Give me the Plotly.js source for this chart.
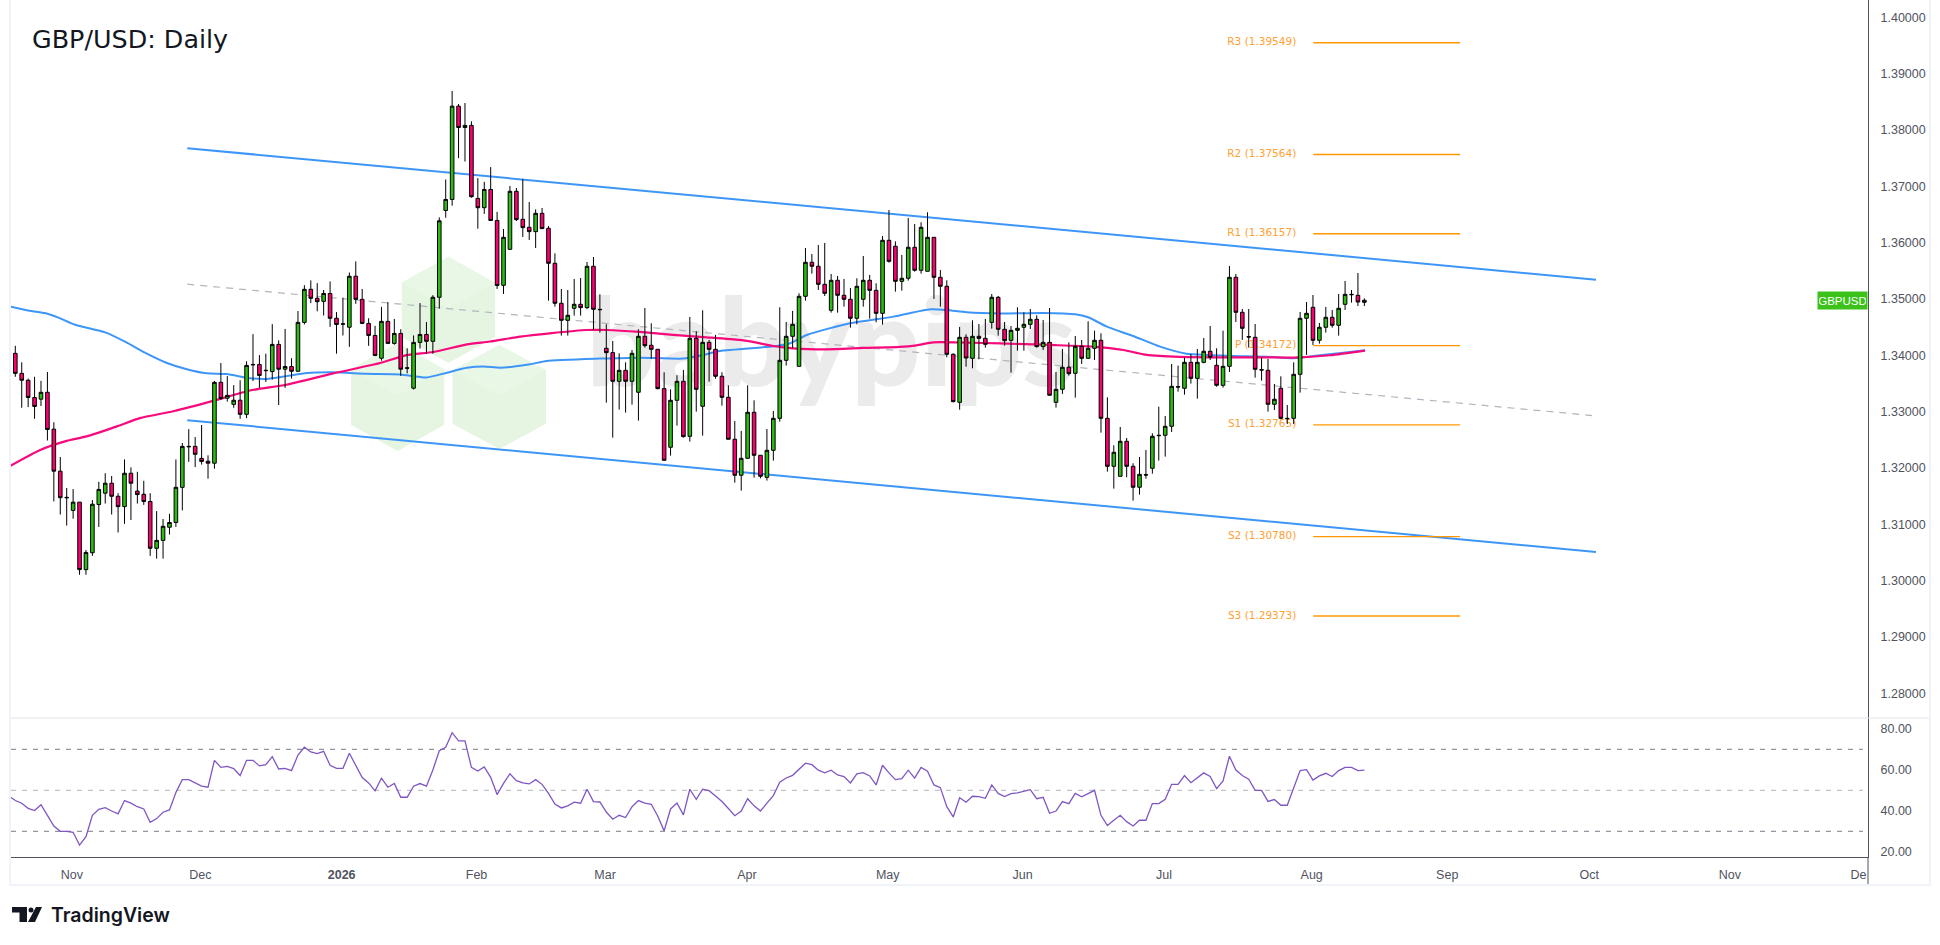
<!DOCTYPE html>
<html>
<head>
<meta charset="utf-8">
<script src="https://cdn.plot.ly/plotly-3.0.1.min.js"></script>
<style>html,body{margin:0;padding:0;background:#fff}#chart{width:1940px;height:945px}</style>
</head>
<body>
<div id="chart"></div>
<script>
const open = [
1.34034,1.33679,1.33557,1.33251,1.33221,1.33343,1.32689,1.31943,1.31478,1.31246,
1.31393,1.30195,1.30494,1.31350,1.31552,1.31729,1.31497,1.31313,1.31906,1.31589,
1.31533,1.31405,1.30574,1.30714,1.30947,1.31032,1.31656,1.32383,1.32383,1.32169,
1.32120,1.32084,1.33520,1.33239,1.33129,1.33202,1.32952,1.33838,1.33838,1.33734,
1.33710,1.34193,1.33753,1.33801,1.33716,1.34584,1.35171,1.35012,1.34957,1.35097,
1.34657,1.34559,1.34498,1.35403,1.34993,1.34566,1.34352,1.33948,1.34602,1.34211,
1.34388,1.33777,1.33416,1.34229,1.34370,1.34248,1.35030,1.36571,1.36766,1.38423,
1.38044,1.38081,1.36785,1.36620,1.36944,1.36393,1.35242,1.35881,1.36911,1.36414,
1.36272,1.36195,1.36520,1.36254,1.35633,1.34923,1.34621,1.34834,1.34905,1.34846,
1.35580,1.34816,1.34124,1.34047,1.33538,1.33733,1.33538,1.33343,1.34337,1.34177,
1.34106,1.33408,1.32367,1.33201,1.33538,1.32562,1.34301,1.33094,1.34230,1.34106,
1.33627,1.33254,1.32509,1.31870,1.32171,1.32988,1.32225,1.31834,1.32313,1.32881,
1.33911,1.34337,1.33804,1.35047,1.35651,1.35580,1.35260,1.34798,1.35331,1.35065,
1.34994,1.34657,1.34994,1.35331,1.35153,1.34745,1.36041,1.35935,1.35313,1.35367,
1.35917,1.35509,1.35491,1.36094,1.35384,1.35225,1.34017,1.33165,1.34319,1.33946,
1.34337,1.34301,1.34585,1.35029,1.34461,1.34266,1.34443,1.34497,1.34550,1.34639,
1.34154,1.34230,1.33165,1.33396,1.33787,1.33680,1.34159,1.33946,1.34124,1.34266,
1.32881,1.32029,1.31852,1.32473,1.32029,1.31657,1.31881,1.31994,1.32580,1.32580,
1.32739,1.33443,1.33414,1.33875,1.33591,1.33875,1.34071,1.33822,1.33467,1.33804,
1.35384,1.34763,1.34331,1.34319,1.33745,1.33733,1.33130,1.33414,1.32881,1.32881,
1.33662,1.34657,1.34852,1.34266,1.34497,1.34674,1.34532,1.34905,1.35082,1.35065,1.34940];
const high = [
1.34168,1.33875,1.33587,1.33618,1.33545,1.33704,1.32811,1.32194,1.31644,1.31625,
1.31393,1.30543,1.31430,1.31754,1.31906,1.31857,1.31552,1.32151,1.32010,1.31931,
1.31772,1.31552,1.31234,1.31093,1.31185,1.32151,1.32444,1.32689,1.32548,1.32762,
1.32224,1.33545,1.33862,1.33630,1.33471,1.33557,1.33893,1.34376,1.34003,1.34028,
1.34553,1.34266,1.34468,1.33948,1.34786,1.35244,1.35330,1.35281,1.35159,1.35311,
1.34767,1.35024,1.35470,1.35666,1.35177,1.34657,1.34523,1.34859,1.34945,1.34645,
1.34462,1.34125,1.34352,1.34926,1.34590,1.35067,1.36448,1.37121,1.38692,1.38460,
1.38478,1.38154,1.37145,1.37078,1.37341,1.36546,1.36242,1.37006,1.36970,1.37130,
1.36721,1.36591,1.36615,1.36295,1.35810,1.35177,1.35159,1.35355,1.35372,1.35656,
1.35745,1.35082,1.34550,1.34254,1.34035,1.33875,1.34094,1.34461,1.34840,1.34568,
1.34106,1.33698,1.33396,1.33645,1.33739,1.34680,1.34426,1.34798,1.34272,1.34361,
1.33698,1.33467,1.32834,1.32657,1.33467,1.33201,1.32225,1.32692,1.33012,1.34852,
1.34591,1.34787,1.35100,1.35905,1.35798,1.35958,1.35994,1.35443,1.35408,1.35355,
1.35195,1.35367,1.35763,1.35426,1.35278,1.36118,1.36579,1.36023,1.35781,1.36437,
1.36331,1.36361,1.36538,1.36094,1.35514,1.35331,1.34035,1.34503,1.34372,1.34621,
1.34556,1.34645,1.35088,1.35053,1.34591,1.34520,1.34852,1.34763,1.34822,1.34710,
1.34627,1.34840,1.33704,1.34112,1.34230,1.34343,1.34272,1.34603,1.34437,1.34390,
1.33254,1.32402,1.32727,1.32532,1.32083,1.32195,1.32319,1.32615,1.33088,1.32923,
1.33846,1.33816,1.33958,1.34023,1.34112,1.34307,1.34520,1.34124,1.34437,1.35585,
1.35443,1.34822,1.34822,1.34556,1.33958,1.33935,1.33491,1.33627,1.33118,1.33875,
1.34769,1.34946,1.35071,1.34574,1.34858,1.34804,1.35088,1.35319,1.35159,1.35461,1.35011];
const low = [
1.33618,1.33068,1.33080,1.32872,1.33098,1.32487,1.31405,1.31173,1.30977,1.31099,
1.30103,1.30103,1.30439,1.30953,1.31368,1.31173,1.30855,1.31008,1.31075,1.31368,
1.31344,1.30439,1.30390,1.30390,1.30818,1.30953,1.31246,1.32108,1.32016,1.32059,
1.31809,1.31986,1.33208,1.33178,1.33068,1.32872,1.32884,1.33545,1.33422,1.33526,
1.33569,1.33117,1.33422,1.33587,1.33710,1.34547,1.34926,1.34780,1.34706,1.34504,
1.34028,1.34352,1.34150,1.34914,1.34553,1.34168,1.33985,1.33905,1.34199,1.34187,
1.33636,1.33679,1.33392,1.34119,1.34028,1.34028,1.34828,1.36442,1.36656,1.37500,
1.37439,1.36797,1.36247,1.36509,1.36393,1.35177,1.35088,1.35870,1.36384,1.36100,
1.36047,1.35905,1.36242,1.34970,1.34864,1.34349,1.34349,1.34704,1.34704,1.34822,
1.34449,1.34402,1.33159,1.32538,1.33035,1.32982,1.33124,1.32840,1.34136,1.33940,
1.33396,1.32130,1.32219,1.32751,1.32538,1.32467,1.33000,1.32574,1.33532,1.33585,
1.33106,1.32509,1.31739,1.31597,1.32165,1.31828,1.31816,1.31775,1.32130,1.32822,
1.33816,1.34124,1.33804,1.34970,1.35449,1.35159,1.35053,1.34757,1.34757,1.34864,
1.34491,1.34550,1.34864,1.34651,1.34585,1.34544,1.35645,1.35130,1.35148,1.35325,
1.35485,1.35449,1.35491,1.35000,1.34864,1.33964,1.33165,1.33035,1.33798,1.33769,
1.33929,1.34136,1.34473,1.34349,1.34171,1.33692,1.34082,1.34082,1.34467,1.34136,
1.34094,1.33284,1.33071,1.33313,1.33639,1.33248,1.33846,1.33940,1.33917,1.32627,
1.31935,1.31633,1.31852,1.31834,1.31420,1.31526,1.31810,1.31899,1.32130,1.32201,
1.32639,1.33355,1.33301,1.33497,1.33230,1.33858,1.33917,1.33443,1.33426,1.33704,
1.34591,1.34272,1.34136,1.33603,1.33550,1.33000,1.33029,1.32864,1.32781,1.32781,
1.33337,1.34006,1.34183,1.34207,1.34402,1.34491,1.34349,1.34804,1.34935,1.34875,1.34875];
const close = [
1.33679,1.33557,1.33251,1.33092,1.33343,1.32683,1.31943,1.31472,1.31472,1.31393,
1.30195,1.30500,1.31356,1.31619,1.31729,1.31497,1.31313,1.31906,1.31729,1.31527,
1.31405,1.30574,1.30714,1.30965,1.31032,1.31656,1.32383,1.32377,1.32242,1.32114,
1.32084,1.33520,1.33233,1.33288,1.33202,1.32952,1.33820,1.33832,1.33642,1.33728,
1.34193,1.33753,1.33801,1.33716,1.34584,1.35171,1.35012,1.34951,1.35097,1.34657,
1.34547,1.34553,1.35403,1.34993,1.34566,1.34352,1.33997,1.34602,1.34211,1.34388,
1.33753,1.33771,1.34229,1.34370,1.34248,1.35030,1.36387,1.36766,1.38423,1.38044,
1.38081,1.36815,1.36620,1.36944,1.36393,1.35238,1.36094,1.36911,1.36408,1.36266,
1.36195,1.36520,1.36248,1.35633,1.34923,1.34621,1.34710,1.34905,1.34846,1.35580,
1.34816,1.34810,1.34047,1.33538,1.33733,1.33538,1.34035,1.34337,1.34171,1.34106,
1.33408,1.32136,1.33201,1.33538,1.32556,1.34301,1.33396,1.34230,1.34106,1.33627,
1.33254,1.32509,1.31870,1.32171,1.32988,1.32225,1.31852,1.32313,1.32881,1.33911,
1.34337,1.34550,1.35047,1.35651,1.35580,1.35260,1.35100,1.35331,1.35065,1.34994,
1.34657,1.35225,1.35331,1.35153,1.34745,1.36041,1.35668,1.35313,1.35367,1.35917,
1.35509,1.36272,1.36094,1.35384,1.35225,1.34017,1.33177,1.34319,1.33952,1.34337,
1.34301,1.34195,1.35029,1.34461,1.34260,1.34443,1.34479,1.34550,1.34639,1.34154,
1.34230,1.33290,1.33396,1.33787,1.33674,1.34159,1.33946,1.34124,1.34266,1.32881,
1.32029,1.32278,1.32473,1.32029,1.31657,1.31887,1.31875,1.32562,1.32574,1.32739,
1.33449,1.33437,1.33875,1.33591,1.33875,1.34071,1.33964,1.33467,1.33804,1.35384,
1.34763,1.34479,1.34325,1.33751,1.33739,1.33130,1.33219,1.32881,1.32875,1.33662,
1.34657,1.34745,1.34266,1.34497,1.34674,1.34532,1.34834,1.35082,1.35076,1.34946,1.34976];
const barIndex = close.map((_, i) => i);

const rsi = [47.2,
45.0,43.7,41.2,40.1,43.0,37.8,32.6,30.0,30.0,29.5,
23.3,27.4,37.8,40.7,41.5,39.9,38.5,45.0,43.7,42.0,
40.9,34.4,36.2,39.3,40.4,48.9,55.2,55.2,53.4,52.0,
51.5,64.6,61.2,61.7,60.6,57.2,64.6,64.6,61.9,62.5,
66.4,60.4,60.7,59.6,67.2,71.0,68.7,67.9,69.0,62.2,
60.7,60.7,68.1,61.9,56.2,53.6,49.7,55.9,51.5,53.3,
46.6,46.6,52.0,53.3,52.0,59.9,69.3,71.0,78.1,74.1,
74.1,61.2,59.4,61.4,56.3,47.9,53.4,58.1,54.7,53.6,
53.1,55.2,52.9,48.5,43.3,41.4,42.4,44.2,43.7,50.5,
44.5,44.3,39.4,35.9,37.8,36.7,42.0,45.0,43.7,43.2,
37.5,30.2,40.9,43.8,38.0,50.5,45.6,50.5,49.8,47.2,
44.5,41.1,37.6,39.9,45.9,42.4,39.9,43.7,47.4,53.9,
56.0,57.3,60.2,63.2,62.5,59.8,58.5,59.8,57.5,56.7,
53.6,58.0,58.6,57.0,52.6,62.2,58.5,55.2,55.7,59.8,
55.9,61.2,59.3,52.6,51.3,42.0,37.0,46.4,44.2,47.1,
46.9,46.1,52.6,48.5,46.9,48.4,48.7,49.4,50.3,45.9,
46.6,38.8,39.9,44.5,43.5,48.5,46.8,48.4,50.0,37.8,
32.8,35.4,37.8,34.7,32.6,35.4,35.4,43.5,43.5,45.6,
52.9,52.9,57.2,53.7,56.0,58.5,56.8,50.8,54.6,66.6,
59.9,57.2,55.4,50.0,50.0,44.6,45.5,42.7,42.7,51.5,
59.6,60.1,55.0,57.0,58.3,56.7,59.6,61.2,61.2,59.6,59.8];
const rsiIndex = rsi.map((_, i) => i - 1);

const ma100Index = [-0.83,1.8,4.6,6.7,9.3,14,17.3,20.4,23.6,26.7,29.8,32.9,36.5,39.1,42.2,45.4,49.5,54.7,59.9,64,67.2,70.3,72.9,75.5,80.1,82.7,91,97.2,104,107.1,109.7,118.5,120.6,123.2,129.9,136.7,142.4,145,148.1,153.3,160,165,167,169.9,174,178.2,182.3,185.5,189.6,194.8,199,203.1,206.7,210.1];
const ma100 = [1.34865,1.34798,1.34749,1.34669,1.34541,1.34407,1.34229,1.34034,1.33863,1.33752,1.33679,1.33667,1.33593,1.33581,1.33630,1.33685,1.33697,1.33673,1.33661,1.33606,1.33691,1.33777,1.33801,1.33780,1.33840,1.33899,1.33941,1.33958,1.33941,1.34006,1.34077,1.34165,1.34213,1.34361,1.34568,1.34686,1.34816,1.34804,1.34763,1.34742,1.34751,1.34727,1.34674,1.34509,1.34343,1.34154,1.34029,1.34006,1.33988,1.33976,1.33946,1.34000,1.34047,1.34088];
const ma200Index = [-0.83,3.8,8,11.1,15.8,19.4,24.6,30.8,36.5,42.2,49.5,56.8,60.9,65.1,70.3,73.9,78.6,83.2,88.9,92.1,97.2,102.4,107.6,112.8,115.4,118,121.1,126.3,132,137.7,140.3,142.9,148.1,153.3,161,167.8,172.5,175.6,180.3,186.5,194.8,199,204.7,210.1];
const ma200 = [1.32035,1.32316,1.32481,1.32560,1.32738,1.32884,1.33007,1.33190,1.33374,1.33477,1.33679,1.33862,1.34003,1.34058,1.34193,1.34245,1.34331,1.34390,1.34449,1.34449,1.34414,1.34361,1.34319,1.34272,1.34225,1.34165,1.34124,1.34106,1.34130,1.34148,1.34177,1.34230,1.34225,1.34210,1.34183,1.34154,1.34094,1.34017,1.33976,1.33964,1.33964,1.33958,1.34000,1.34082];

const channelIndex = [26.77, 246.06];
const channelUpper = [1.37676, 1.35342];
const channelLower = [1.32848, 1.30507];
const channelMiddle = [1.35262, 1.32924];

const pivotNames = ['R3','R2','R1','P','S1','S2','S3'];
const pivotValues = [1.39549,1.37564,1.36157,1.34172,1.32765,1.30780,1.29373];
const pivotLabels = pivotValues.map((v,i) => pivotNames[i] + ' (' + v.toFixed(5) + ')');
const pivotIndex = [202.05, 224.9];
const pivotLabelIndex = 199.4;

const priceTicks = [1.28,1.29,1.30,1.31,1.32,1.33,1.34,1.35,1.36,1.37,1.38,1.39,1.40];
const rsiTicks = [20,40,60,80];
const rsiLevels = [70,50,30];
const rsiLevelColors = ['#787b86','#b2b5be','#787b86'];
const timeTickIndex = [8.8,28.8,50.8,71.8,91.8,113.9,135.8,156.8,178.8,201.8,222.9,245,266.9,286.9];
const timeTickText = ['Nov','Dec','<b>2026</b>','Feb','Mar','Apr','May','Jun','Jul','Aug','Sep','Oct','Nov','De'];

const W = 1940, H = 945;
const xRange = [-0.669, 288.4];
const yRange = [1.27561, 1.40307];
const px = x => x / W, py = y => 1 - y / H;
const poly = pts => 'M' + pts.map(p => px(p[0]) + ',' + py(p[1])).join('L') + 'Z';
const hexPts = (l, r, t, b) => {
  const c = (l + r) / 2, q = (b - t) / 4.1;
  return [[c, t], [r, t + q], [r, b - q], [c, b], [l, b - q], [l, t + q]];
};
const hexTop = (l, r, t, b) => {
  const c = (l + r) / 2, q = (b - t) / 4.1;
  return [[c, t], [r, t + q], [c, t + 2 * q], [l, t + q]];
};
const hexes = [[401.7,495,256.7,363],[351,444.3,343,451],[452.5,546,345,449]];
const paperShape = (path, fill) => ({type:'path', xref:'paper', yref:'paper', path, fillcolor:fill, line:{width:0}, layer:'below'});
const frameLine = (x0,y0,x1,y1,color,w) => ({type:'line', xref:'paper', yref:'paper', x0:px(x0), y0:py(y0), x1:px(x1), y1:py(y1), line:{color, width:w}, layer:'above'});

const shapes = [];
hexes.forEach(h => {
  shapes.push(paperShape(poly(hexPts(...h)), '#e6f4e2'));
  shapes.push(paperShape(poly(hexTop(...h)), '#e9f7e6'));
});
shapes.push(frameLine(10,0,10,885,'#f0f3fa',2));
shapes.push(frameLine(1930,0,1930,885,'#f0f3fa',2));
shapes.push(frameLine(9,885,1931,885,'#f0f3fa',2));
shapes.push(frameLine(11,718,1929,718,'#e0e3eb',1));
shapes.push(frameLine(1868,857,1868,884,'#50535e',1));
// TradingView mark
shapes.push(paperShape(poly([[12,907],[27,907],[27,922],[19.5,922],[19.5,912.5],[12,912.5]]), '#131722'));
shapes.push(paperShape(poly([[36,907],[42,907],[35,922],[28,922]]), '#131722'));
shapes.push({type:'circle', xref:'paper', yref:'paper', x0:px(28.5), x1:px(33.5), y0:py(907.5), y1:py(912.5), fillcolor:'#131722', line:{width:0}, layer:'below'});

const lineTrace = (x, y, color, width, extra) => ({type:'scatter', mode:'lines', x, y, xaxis:'x', yaxis:'y', hoverinfo:'skip', showlegend:false, line:Object.assign({color, width}, extra||{})});

const traces = [];
traces.push({type:'scatter', mode:'text', x:[127], y:[1.3399], text:['babypips'], textposition:'middle center',
  textfont:{family:'Lato, "Open Sans", sans-serif', size:122, color:'#ebebeb', weight:900}, xaxis:'x', yaxis:'y', hoverinfo:'skip', showlegend:false});
traces.push(lineTrace(channelIndex, channelMiddle, '#b2b5be', 1.2, {dash:'7px,6px'}));
traces.push(lineTrace(ma100Index, ma100, '#3d96f7', 2, {shape:'spline', smoothing:0.6}));
traces.push(lineTrace(ma200Index, ma200, '#f80a7c', 2.2, {shape:'spline', smoothing:0.6}));
traces.push(lineTrace(channelIndex, channelUpper, '#3d96f7', 2));
traces.push(lineTrace(channelIndex, channelLower, '#3d96f7', 2));
pivotValues.forEach(v => traces.push(lineTrace(pivotIndex, [v, v], '#ff9800', 1.4)));
traces.push({type:'scatter', mode:'text', x:pivotValues.map(() => pivotLabelIndex), y:pivotValues, text:pivotLabels, textposition:'middle left',
  textfont:{family:'"DejaVu Sans", sans-serif', size:10.5, color:'#ffa033'}, xaxis:'x', yaxis:'y', hoverinfo:'skip', showlegend:false});
// candles sit on an overlaid copy of the price axes so they draw above lines and text
traces.push({type:'candlestick', x:barIndex, open, high, low, close, xaxis:'x3', yaxis:'y3', whiskerwidth:0, showlegend:false, hoverinfo:'skip',
  increasing:{fillcolor:'#2bbb12', line:{color:'#000000', width:1}},
  decreasing:{fillcolor:'#fb006f', line:{color:'#000000', width:1}}});
rsiLevels.forEach((v, i) => traces.push({type:'scatter', mode:'lines', x:[xRange[0], 287.6], y:[v, v], xaxis:'x', yaxis:'y2', hoverinfo:'skip', showlegend:false,
  line:{color:rsiLevelColors[i], width:1, dash:'5px,6px'}}));
traces.push({type:'scatter', mode:'lines', x:rsiIndex, y:rsi, xaxis:'x', yaxis:'y2', hoverinfo:'skip', showlegend:false, line:{color:'#7e57c2', width:1.3}});

const tickFont = {family:'"Liberation Sans", Arial, sans-serif', size:12.5, color:'#50535e'};
const layout = {
  width:W, height:H, margin:{l:0,r:0,t:0,b:0}, paper_bgcolor:'#ffffff', plot_bgcolor:'rgba(0,0,0,0)', showlegend:false, boxgap:0.2,
  title:{text:'GBP/USD: Daily', x:px(32), xanchor:'left', xref:'paper', y:py(39), yanchor:'middle', yref:'paper',
    font:{family:'"DejaVu Sans", sans-serif', size:25.4, color:'#131722'}},
  xaxis:{domain:[px(11),px(1868)], range:xRange, anchor:'y2', rangeslider:{visible:false}, showgrid:false, zeroline:false,
    showline:true, linecolor:'#50535e', linewidth:1, tickmode:'array', tickvals:timeTickIndex, ticktext:timeTickText, tickangle:0,
    ticks:'outside', ticklen:6, tickcolor:'rgba(0,0,0,0)', tickfont:tickFont, fixedrange:true},
  yaxis:{domain:[py(718),1], range:yRange, side:'right', anchor:'x', showgrid:false, zeroline:false, showline:true, linecolor:'#50535e', linewidth:1,
    tickmode:'array', tickvals:priceTicks, tickformat:'.5f', ticks:'outside', ticklen:9, tickcolor:'rgba(0,0,0,0)', tickfont:tickFont, fixedrange:true},
  yaxis2:{domain:[py(857),py(718)], range:[17.46,85.27], side:'right', anchor:'x', showgrid:false, zeroline:false, showline:true, linecolor:'#50535e', linewidth:1,
    tickmode:'array', tickvals:rsiTicks, tickformat:'.2f', ticks:'outside', ticklen:9, tickcolor:'rgba(0,0,0,0)', tickfont:tickFont, fixedrange:true},
  xaxis3:{domain:[px(11),px(1868)], range:xRange, overlaying:'x', anchor:'y3', visible:false, rangeslider:{visible:false}, fixedrange:true},
  yaxis3:{domain:[py(718),1], range:yRange, overlaying:'y', anchor:'x3', visible:false, fixedrange:true},
  shapes,
  annotations:[
    {xref:'x', yref:'y', x:xRange[1], y:1.34969, xanchor:'right', yanchor:'middle', text:'GBPUSD', showarrow:false, bgcolor:'#3cc21b', width:47, height:15,
      font:{family:'"Liberation Sans", sans-serif', size:11.5, color:'#ffffff'}},
    {xref:'paper', yref:'paper', x:px(49), y:py(915), xanchor:'left', yanchor:'middle', text:'TradingView', showarrow:false,
      font:{family:'Inter, sans-serif', size:19.5, color:'#131722', weight:600}}
  ]
};
Plotly.newPlot('chart', traces, layout, {displayModeBar:false, staticPlot:true});
</script>
</body>
</html>
